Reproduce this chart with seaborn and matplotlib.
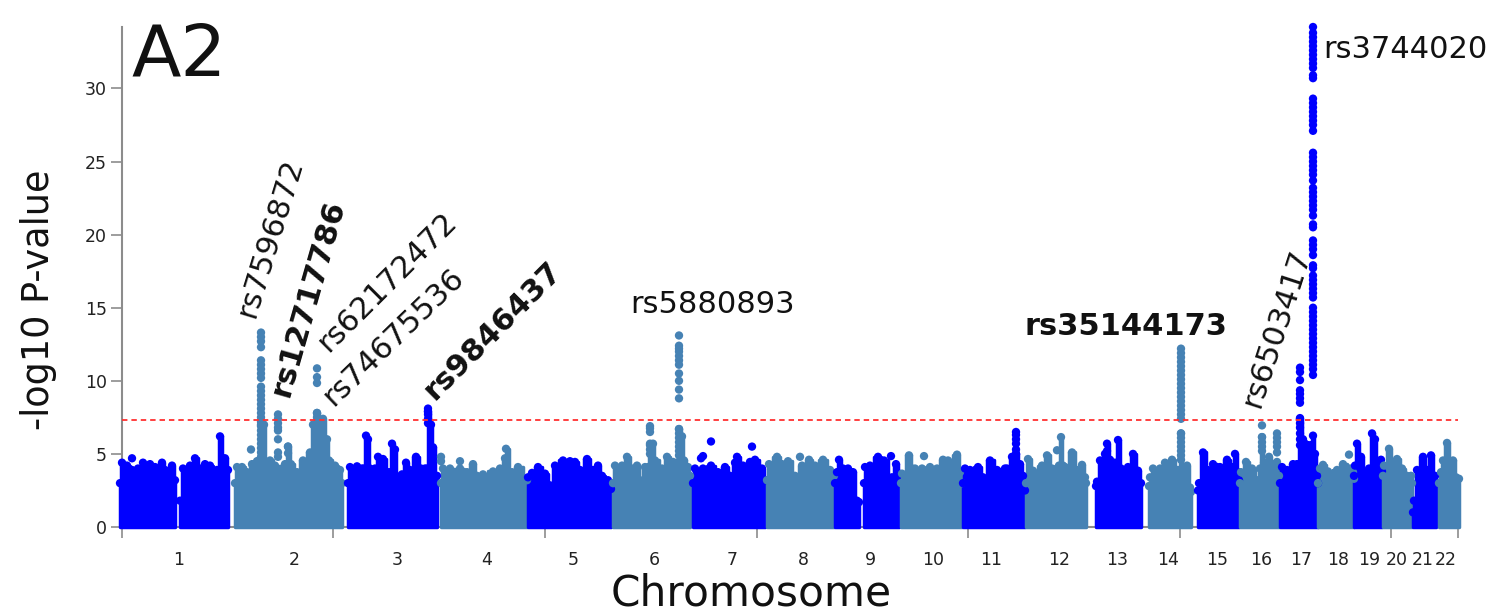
import numpy as np
import pandas as pd
import matplotlib
matplotlib.use("Agg")
import matplotlib.pyplot as plt
import seaborn as sns

BLUE = "#0000ff"
STEEL = "#4682b4"
GRAY = "#8c8c8c"
nan = float("nan")

# upper outline of each chromosome (position, -log10 p)
chr1_pos = [120, 122, 127, 132, 138, 143, 150, 155, 162, 165, 172, 175, nan, 180, 183, 190, 195, 200, 205, 210, 215, 217, 220, 223, 225, 228]
chr1_top = [3.0, 4.4, 4.2, 3.9, 4.0, 4.4, 4.3, 4.1, 4.4, 3.9, 4.2, 3.2, nan, 1.8, 4.0, 4.2, 4.7, 4.0, 4.3, 4.2, 3.8, 3.9, 6.2, 4.7, 4.7, 3.9]
chr2_pos = [235, 237, 242, 247, 252, 257, 258, 261, 264, 265, 270, 275, 282, 285, 288, 291, 297, 303, 310, 313, 317, 320, 323, 327, 329, 335, 340, 342]
chr2_top = [3.0, 4.1, 4.1, 3.75, 4.3, 4.5, 4.5, 7.0, 7.0, 4.4, 4.55, 4.2, 4.0, 4.3, 5.5, 4.3, 3.75, 4.55, 5.1, 7.0, 7.8, 7.2, 7.4, 6.0, 4.55, 4.2, 3.9, 3.0]
chr3_pos = [348, 350, 357, 362, 364, 366, 368, 370, 375, 378, 383, 389, 392, 395, 396, 402, 406, 410, 416, 421, 425, 427, 428, 431, 433, 437]
chr3_top = [3.0, 4.1, 4.15, 4.0, 4.0, 6.25, 6.0, 4.0, 4.0, 4.8, 4.65, 3.75, 5.7, 5.3, 3.5, 3.6, 4.4, 3.9, 4.8, 4.0, 4.0, 4.0, 7.9, 7.0, 5.45, 3.5]
chr4_pos = [441, 443, 450, 460, 467, 473, 477, 483, 493, 500, 505, 506, 512, 518, 527]
chr4_top = [3.0, 4.0, 4.0, 4.0, 3.75, 4.3, 3.5, 3.6, 3.8, 4.0, 4.7, 5.35, 3.75, 4.1, 3.2]
chr5_pos = [528, 532, 538, 545, 550, 555, 563, 570, 575, 580, 587, 593, 598, 602, 608, 611]
chr5_top = [3.4, 3.7, 4.1, 3.65, 2.85, 4.2, 4.55, 4.5, 4.45, 3.9, 4.65, 3.9, 4.2, 3.5, 3.2, 2.6]
chr6_pos = [613, 615, 622, 627, 632, 637, 640, 645, 648, 650, 653, 655, 662, 667, 673, 677, 679, 682, 684, 688, 690]
chr6_top = [3.0, 4.2, 4.2, 4.8, 4.0, 4.2, 3.2, 4.1, 4.1, 5.7, 5.7, 4.55, 4.0, 4.8, 4.45, 4.4, 6.7, 6.2, 4.55, 4.1, 3.5]
chr7_pos = [693, 695, 703, 711, 718, 725, 730, 735, 737, 743, 750, 755, 762, 765]
chr7_top = [3.0, 4.0, 4.0, 4.2, 3.75, 4.1, 3.5, 4.4, 4.8, 4.2, 4.45, 4.6, 4.0, 3.2]
chr8_pos = [767, 769, 777, 782, 788, 795, 802, 809, 815, 823, 830, 834]
chr8_top = [3.2, 4.3, 4.8, 4.3, 4.5, 3.5, 4.2, 4.6, 4.2, 4.6, 3.9, 3.5]
chr9_pos = [835, 837, 839, 843, 848, 853, 857, 859, nan, 864, 865, 870, 878, 884, 892, 896, 899]
chr9_top = [3.0, 3.75, 4.6, 4.0, 4.0, 3.75, 1.8, 1.7, nan, 3.0, 4.1, 4.2, 4.8, 4.55, 3.4, 4.3, 3.65]
chr10_pos = [901, 902, 909, 912, 915, 922, 930, 937, 943, 948, 957, 960, 962]
chr10_top = [3.0, 3.65, 4.9, 4.0, 4.0, 4.0, 4.1, 4.0, 4.6, 4.55, 4.95, 3.75, 3.0]
chr11_pos = [963, 965, 970, 978, 983, 990, 997, 1005, 1007, 1012, 1016, 1020, 1023, 1025]
chr11_top = [3.0, 4.0, 3.9, 4.1, 3.4, 4.55, 3.9, 4.0, 4.0, 4.8, 5.0, 4.3, 3.5, 2.5]
chr12_pos = [1026, 1028, 1033, 1042, 1047, 1052, 1057, 1059, 1061, 1063, 1065, 1072, 1077, 1082, 1085, 1086]
chr12_top = [3.0, 4.65, 3.85, 4.2, 4.9, 4.0, 4.0, 4.2, 6.15, 4.2, 4.1, 5.1, 3.9, 4.25, 3.4, 3.0]
chr13_pos = [1096, 1097, 1100, 1105, 1107, 1110, 1112, 1115, 1118, 1121, 1128, 1133, 1138, 1141]
chr13_top = [2.8, 3.1, 4.55, 5.0, 5.7, 4.6, 3.4, 4.4, 5.95, 4.0, 4.1, 5.0, 3.85, 3.0]
chr14_pos = [1149, 1150, 1153, 1160, 1165, 1172, 1177, 1179, 1181, 1183, 1187, 1190, 1191]
chr14_top = [2.8, 3.4, 4.0, 4.0, 4.4, 4.6, 3.9, 3.9, 6.4, 3.9, 4.2, 2.7, 2.4]
chr15_pos = [1198, 1199, 1203, 1208, 1213, 1220, 1227, 1232, 1235, 1238, 1239]
chr15_top = [2.5, 3.0, 5.1, 3.9, 4.3, 4.1, 4.6, 4.1, 5.0, 3.75, 3.2]
chr16_pos = [1240, 1241, 1246, 1252, 1257, 1260, 1262, 1264, 1265, 1269, 1273, 1277, 1279]
chr16_top = [3.0, 3.75, 4.45, 4.0, 3.2, 4.0, 6.15, 4.4, 4.0, 4.8, 4.3, 4.45, 3.5]
chr17_pos = [1280, 1282, 1287, 1293, 1297, 1300, 1303, 1305, 1308, 1311, 1313, 1315, 1317, 1318]
chr17_top = [3.0, 4.1, 3.9, 4.3, 4.3, 7.4, 6.0, 5.7, 5.6, 5.6, 6.25, 5.0, 3.5, 3.0]
chr18_pos = [1318, 1320, 1323, 1328, 1337, 1343, 1350, 1353, 1354]
chr18_top = [3.0, 4.0, 4.25, 3.8, 3.9, 4.3, 4.0, 3.75, 3.3]
chr19_pos = [1354, 1355, 1357, 1361, 1365, 1369, 1372, 1375, 1377, 1381, 1382]
chr19_top = [3.5, 4.2, 5.7, 4.8, 3.75, 4.0, 6.4, 6.0, 4.3, 4.6, 3.8]
chr20_pos = [1383, 1384, 1389, 1393, 1397, 1402, 1407, 1411, 1412]
chr20_top = [3.5, 4.2, 5.35, 4.3, 4.65, 4.0, 3.5, 3.5, 3.0]
chr21_pos = [1413, 1414, 1417, 1423, 1427, 1431, 1435, 1436]
chr21_top = [1.0, 1.8, 3.9, 4.8, 3.9, 4.9, 3.5, 3.0]
chr22_pos = [1439, 1441, 1443, 1447, 1450, 1453, 1456, 1459]
chr22_top = [3.0, 3.75, 4.55, 5.75, 4.45, 4.55, 3.4, 3.3]

chrom_pos = [chr1_pos, chr2_pos, chr3_pos, chr4_pos, chr5_pos, chr6_pos, chr7_pos, chr8_pos, chr9_pos, chr10_pos, chr11_pos,
             chr12_pos, chr13_pos, chr14_pos, chr15_pos, chr16_pos, chr17_pos, chr18_pos, chr19_pos, chr20_pos, chr21_pos, chr22_pos]
chrom_top = [chr1_top, chr2_top, chr3_top, chr4_top, chr5_top, chr6_top, chr7_top, chr8_top, chr9_top, chr10_top, chr11_top,
             chr12_top, chr13_top, chr14_top, chr15_top, chr16_top, chr17_top, chr18_top, chr19_top, chr20_top, chr21_top, chr22_top]

# single SNPs standing above the outline
chr17_peak_val = [34.2, 33.8, 33.5, 33.2, 32.9, 32.6, 32.3, 32.0, 31.7, 31.4, 30.9, 30.7, 29.3, 29.0, 28.7, 28.4, 28.1, 27.8, 27.5, 27.1,
                  25.6, 25.3, 25.0, 24.7, 24.4, 24.1, 23.7, 23.2, 22.9, 22.6, 22.3, 22.0, 21.7, 21.3, 20.7, 20.5, 19.6, 19.3, 19.0, 18.6,
                  17.9, 17.7, 17.2, 16.9, 16.6, 16.3, 16.0, 15.7, 15.0, 14.7, 14.4, 14.1, 13.8, 13.5, 13.2, 12.9, 12.6, 12.3, 12.0, 11.7,
                  11.4, 11.1, 10.8, 10.4]
chr17_low_val = [10.9, 10.6, 10.05, 9.35, 9.1, 8.8, 8.5, 7.45, 7.1, 6.8, 6.4, 6.0, 5.6]
chr2_peak_val = [13.3, 13.0, 12.7, 12.3, 11.4, 11.1, 10.8, 10.5, 10.2, 9.6, 9.3, 9.0, 8.7, 8.4, 8.1, 7.8, 7.5, 7.2, 6.9, 6.6, 6.3, 6.0, 5.7, 5.4, 5.1, 4.8]
chr2b_val = [7.7, 7.4, 7.1, 6.8, 6.6, 6.0, 5.1, 4.8]
chr2c_val = [10.85, 10.25, 9.85, 7.8, 7.5]
chr6_peak_val = [13.1, 12.4, 12.2, 12.0, 11.7, 11.4, 11.1, 10.5, 10.0, 9.4, 8.8, 6.7, 6.4, 6.1, 5.8, 5.5, 5.2, 4.9]
chr6b_val = [6.9, 6.75, 6.5, 5.6, 5.3, 5.0]
chr14_peak_val = [12.2, 11.9, 11.6, 11.3, 11.0, 10.7, 10.4, 10.1, 9.8, 9.5, 9.2, 8.9, 8.6, 8.3, 8.0, 7.7, 7.4, 6.4, 6.1, 5.8, 5.5, 5.2, 4.9, 4.6]
chr3_peak_val = [8.1, 7.9, 7.7, 7.4, 7.1]
chr11_peak_val = [6.5, 6.3, 6.0, 5.7, 5.3, 5.0]
chr16_peak_val = [6.95, 6.15, 5.8, 5.5, 5.2]
chr16b_val = [6.4, 6.1, 5.8, 5.5, 5.1]

# (position, values, chromosome number)
hit_pos = [1313, 1300, 261, 278, 317, 679, 650, 1181, 428, 1016, 1262, 1277,
           132, 251, 288, 288, 703, 701, 711, 752, 800, 891, 924, 1349, 441, 441, 460, 1057, 1107]
hit_vals = [chr17_peak_val, chr17_low_val, chr2_peak_val, chr2b_val, chr2c_val, chr6_peak_val, chr6b_val, chr14_peak_val,
            chr3_peak_val, chr11_peak_val, chr16_peak_val, chr16b_val,
            [4.7], [5.3], [5.5], [5.05], [4.85], [4.7], [5.85], [5.5], [4.8], [4.85], [4.85], [4.95], [4.8], [4.5], [4.5], [5.25], [5.2]]
hit_chrom = [17, 17, 2, 2, 2, 6, 6, 14, 3, 11, 16, 16, 1, 2, 2, 2, 7, 7, 7, 7, 8, 9, 10, 18, 4, 4, 4, 12, 13]

major_ticks = [122, 333, 545, 757, 968, 1180, 1391, 1458]
chrom_label_pos = [179, 294, 397, 487, 573, 654, 732, 803, 870, 933, 991, 1059, 1117, 1168, 1217, 1261, 1301, 1338, 1369, 1397, 1423, 1446]
chrom_labels = [str(i) for i in range(1, 23)]

snp_names = ["rs7596872", "rs12717786", "rs62172472", "rs74675536", "rs9846437", "rs5880893", "rs35144173", "rs6503417", "rs3744020"]
snp_x = [270, 308, 387, 393, 493, 713, 1126, 1277, 1405]
snp_y = [19.75, 15.65, 16.75, 13.0, 13.45, 15.2, 13.7, 13.6, 32.65]
snp_rot = [73, 74, 45, 44, 45, 0, 0, 72, 0]
snp_weight = ["normal", "bold", "normal", "normal", "bold", "normal", "bold", "normal", "normal"]

threshold = 7.3


def chrom_color(num):
    return BLUE if num % 2 == 1 else STEEL


sns.set_theme(style="white")
fig, ax = plt.subplots(figsize=(15.1, 6.14), dpi=100)
fig.subplots_adjust(left=122 / 1510, right=1458 / 1510, bottom=(614 - 527) / 614, top=(614 - 27) / 614)

rows = []
for i, (xs, tops) in enumerate(zip(chrom_pos, chrom_top), start=1):
    col = chrom_color(i)
    ax.fill_between(xs, 0, tops, step="mid", color=col, lw=2.5, joinstyle="round", clip_on=False, zorder=2)
    for x, t in zip(xs, tops):
        if not np.isnan(x):
            rows.append((x, t, col))
for x, vals, c in zip(hit_pos, hit_vals, hit_chrom):
    for v in vals:
        rows.append((x, v, chrom_color(c)))
points = pd.DataFrame(rows, columns=["pos", "logp", "col"])

sns.scatterplot(data=points, x="pos", y="logp", hue="col", palette={BLUE: BLUE, STEEL: STEEL}, s=36, linewidth=0,
                legend=False, clip_on=False, zorder=3, ax=ax)

ax.axhline(threshold, color="#ff3030", lw=1.3, ls=(0, (3, 2.2)), zorder=4)

ax.set_xlim(122, 1458)
ax.set_ylim(0, 34.2)
ax.set_xticks(major_ticks, labels=[])
ax.set_xticks(chrom_label_pos, labels=chrom_labels, minor=True)
ax.set_yticks([0, 5, 10, 15, 20, 25, 30])
ax.tick_params(axis="x", which="major", length=8, width=1.2, color=GRAY, bottom=True)
ax.tick_params(axis="x", which="minor", length=0, pad=17, labelsize=12.5, labelcolor="#222222", bottom=False)
ax.tick_params(axis="y", length=8, width=1.2, color=GRAY, labelsize=12.5, labelcolor="#222222", left=True, pad=3)
ax.set_xlabel("Chromosome", fontsize=30.4, color="#111111")
ax.xaxis.set_label_coords((751 - 122) / 1336, -0.091)
ax.set_ylabel("-log10 P-value", fontsize=26.4, color="#111111")
ax.yaxis.set_label_coords(-0.049, 0.454)
ax.grid(False)

sns.despine(ax=ax)
for side in ["left", "bottom"]:
    ax.spines[side].set_color(GRAY)
    ax.spines[side].set_linewidth(1.5)
    ax.spines[side].set_zorder(1)

for name, x, y, rot, w in zip(snp_names, snp_x, snp_y, snp_rot, snp_weight):
    ax.text(x, y, name, rotation=rot, fontsize=22, fontweight=w, color="#111111", ha="center", va="center", zorder=5)
ax.text(179, 32.2, "A2", fontsize=52, color="#111111", ha="center", va="center", zorder=5)

fig.savefig("out.png", dpi=100)
